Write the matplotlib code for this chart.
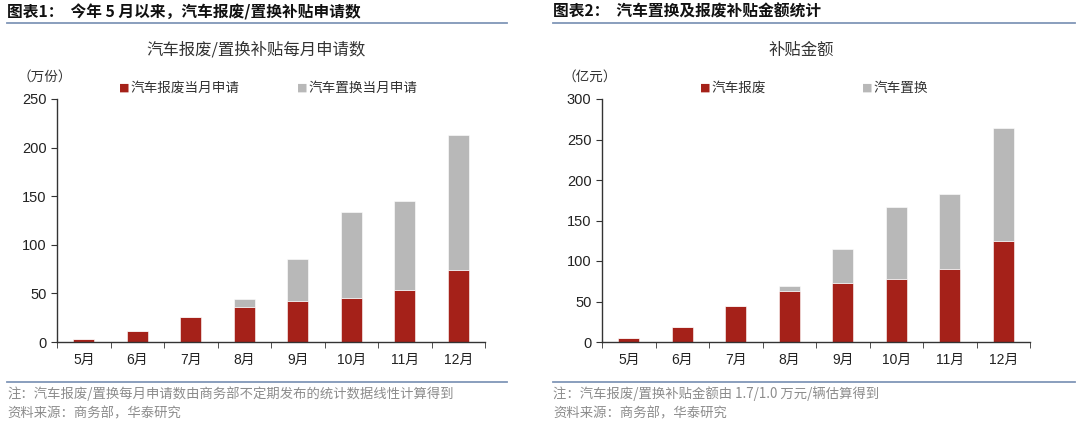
import matplotlib
matplotlib.use("Agg")
import matplotlib.pyplot as plt
import numpy as np

plt.rcParams["font.family"] = ["Liberation Sans", "Noto Sans CJK SC", "DejaVu Sans"]

months = ["5月", "6月", "7月", "8月", "9月", "10月", "11月", "12月"]

# chart 1: monthly applications (10k)
apply_scrap = [2.7, 11.0, 26.0, 36.4, 42.5, 45.3, 53.5, 73.7]
apply_replace = [0, 0, 0, 7.5, 42.5, 88.7, 91.5, 139.6]

# chart 2: subsidy amount (100M yuan)
amt_scrap = [4.5, 18.5, 44.4, 62.6, 72.8, 77.4, 90.5, 124.7]
amt_replace = [0, 0, 0, 6.5, 42.0, 88.9, 91.8, 139.5]

RED = "#A52119"
GRAY = "#B8B8B8"
LINE = "#8096B8"
NOTE = "#8C8C8C"
CJK = ["Noto Sans CJK SC", "DejaVu Sans"]

W, H = 1080, 429
fig = plt.figure(figsize=(W / 100, H / 100), dpi=100)


def px(x, y, w, h):
    return [x / W, 1 - (y + h) / H, w / W, h / H]


def panel(x0, ax_rect, header, title, unit, legends, s1, s2, ymax, step, hx, lines_x):
    # header and rules
    fig.text(x0 / W, 1 - 12 / H, header, fontsize=11.3, fontweight="bold", family=CJK,
             va="center", ha="left", color="#111111")
    for yy in (23, 382):
        fig.add_artist(plt.Line2D([lines_x[0] / W, lines_x[1] / W], [1 - yy / H] * 2,
                                  color=LINE, lw=1.3))
    ax = fig.add_axes(px(*ax_rect))
    x = np.arange(len(months))
    ax.bar(x, s1, width=0.4, color=RED, edgecolor="white", lw=0.4, zorder=3)
    ax.bar(x, s2, width=0.4, bottom=s1, color=GRAY, edgecolor="white", lw=0.4, zorder=3)
    ax.set_xlim(-0.5, len(months) - 0.5)
    ax.set_ylim(0, ymax)
    ax.set_yticks(np.arange(0, ymax + 1, step))
    ax.set_xticks(x)
    ax.set_xticklabels(months, fontsize=10, color="#222222")
    ax.tick_params(axis="x", length=0, pad=8)
    ax.set_xticks(np.arange(-0.5, len(months)), minor=True)
    ax.tick_params(axis="x", which="minor", length=4, direction="out", color="#333333")
    ax.tick_params(axis="y", length=4, direction="out", labelsize=10.5,
                   color="#333333", labelcolor="#222222")
    for s in ("top", "right"):
        ax.spines[s].set_visible(False)
    for s in ("left", "bottom"):
        ax.spines[s].set_color("#333333")
        ax.spines[s].set_linewidth(1.0)
    ax.spines["bottom"].set_zorder(4)

    fig.text(hx / W, 1 - 50 / H, title, fontsize=11.8, family=CJK, ha="center", va="center",
             color="#333333")
    fig.text((ax_rect[0] - 12) / W, 1 - 77 / H, unit, fontsize=9.8, family=CJK,
             ha="center", va="center", color="#333333")
    for (lx, lab, col) in legends:
        fig.text(lx / W, 1 - 88 / H, "■", fontsize=8, family=["DejaVu Sans"], color=col,
                 ha="left", va="center")
        fig.text((lx + 11) / W, 1 - 88 / H, lab, fontsize=9.8, family=CJK, color="#333333",
                 ha="left", va="center")
    return ax


panel(7, (57, 99, 428, 243), "图表1：  今年 5 月以来，汽车报废/置换补贴申请数",
      "汽车报废/置换补贴每月申请数", "（万份）",
      [(119, "汽车报废当月申请", RED), (297, "汽车置换当月申请", GRAY)],
      apply_scrap, apply_replace, 250, 50, 256, (7, 507))
panel(553, (602, 99, 428, 243), "图表2：  汽车置换及报废补贴金额统计",
      "补贴金额", "（亿元）",
      [(700, "汽车报废", RED), (862, "汽车置换", GRAY)],
      amt_scrap, amt_replace, 300, 50, 801, (553, 1075))

notes = [
    (7, "注：汽车报废/置换每月申请数由商务部不定期发布的统计数据线性计算得到"),
    (553, "注：汽车报废/置换补贴金额由 1.7/1.0 万元/辆估算得到"),
]
for nx, t in notes:
    fig.text(nx / W, 1 - 394 / H, t, fontsize=9.6, family=CJK, color=NOTE, va="center")
    fig.text(nx / W, 1 - 413 / H, "资料来源：商务部，华泰研究", fontsize=9.6, family=CJK,
             color=NOTE, va="center")

fig.savefig("out.png", dpi=100)
